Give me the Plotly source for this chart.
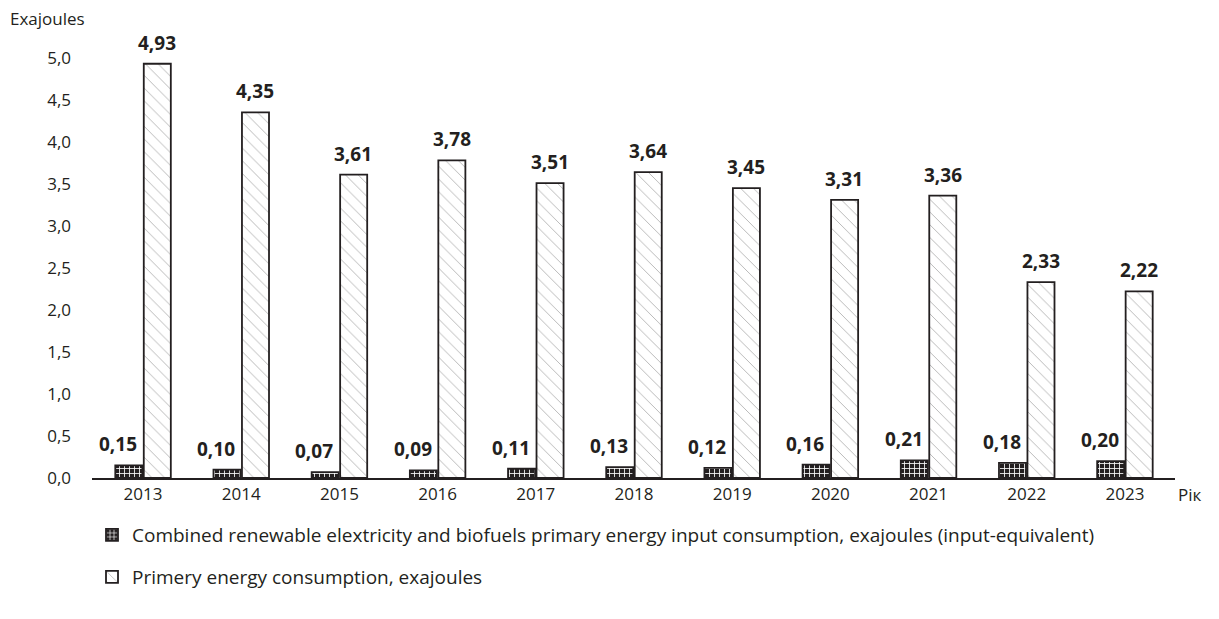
import plotly.graph_objects as go

years = ["2013", "2014", "2015", "2016", "2017", "2018", "2019", "2020", "2021", "2022", "2023"]
renewable = [0.15, 0.10, 0.07, 0.09, 0.11, 0.13, 0.12, 0.16, 0.21, 0.18, 0.20]
primary = [4.93, 4.35, 3.61, 3.78, 3.51, 3.64, 3.45, 3.31, 3.36, 2.33, 2.22]
y_ticks = [0, 0.5, 1.0, 1.5, 2.0, 2.5, 3.0, 3.5, 4.0, 4.5, 5.0]

name_ren = "Combined renewable elextricity and biofuels primary energy input consumption, exajoules (input-equivalent)"
name_pri = "Primery energy consumption, exajoules"

FONT = "Open Sans"
INK = "#231f20"

fig = go.Figure()
fig.add_trace(go.Bar(
    x=years, y=renewable, name=name_ren,
    marker=dict(color="white", line=dict(color=INK, width=1.8),
                pattern=dict(shape="+", fgcolor="white", bgcolor=INK, size=5, solidity=0.3, fillmode="replace")),
    legend="legend",
))
fig.add_trace(go.Bar(
    x=years, y=primary, name=name_pri,
    marker=dict(color="white", line=dict(color=INK, width=1.8),
                pattern=dict(shape="\\", fgcolor="#666666", bgcolor="white", size=9, solidity=0.1)),
    legend="legend2",
))

annotations = [
    dict(text="Exajoules", xref="paper", yref="paper", x=0, y=1.0, xshift=-84, yshift=18,
         xanchor="left", yanchor="middle", showarrow=False, font=dict(family=FONT, size=17, color=INK)),
    dict(text="Рік", xref="paper", yref="paper", x=1.0, y=0, yshift=-16, xshift=2, borderpad=0,
         xanchor="left", yanchor="middle", showarrow=False, font=dict(family=FONT, size=17, color=INK)),
]
for i, v in enumerate(renewable):
    annotations.append(dict(text="<b>" + f"{v:.2f}".replace(".", ",") + "</b>", x=i, y=v, xref="x", yref="y",
                            xanchor="center", yanchor="bottom", xshift=-25, yshift=6, showarrow=False,
                            font=dict(family=FONT, size=19, color=INK)))
for i, v in enumerate(primary):
    annotations.append(dict(text="<b>" + f"{v:.2f}".replace(".", ",") + "</b>", x=i, y=v, xref="x", yref="y",
                            xanchor="center", yanchor="bottom", xshift=14, yshift=6, showarrow=False,
                            font=dict(family=FONT, size=19, color=INK)))

fig.update_layout(
    width=1219, height=619,
    margin=dict(l=92, r=44, t=36, b=141),
    plot_bgcolor="white", paper_bgcolor="white",
    separators=", ",
    barmode="group", bargap=0.42, bargroupgap=0.05,
    font=dict(family=FONT, size=17, color=INK),
    showlegend=True,
    legend=dict(x=0.0, xanchor="left", y=-0.129, yanchor="middle", orientation="h", itemwidth=30,
                font=dict(family=FONT, size=19, color=INK), bgcolor="rgba(0,0,0,0)"),
    legend2=dict(x=0.0, xanchor="left", y=-0.224, yanchor="middle", orientation="h", itemwidth=30,
                 font=dict(family=FONT, size=19, color=INK), bgcolor="rgba(0,0,0,0)"),
    annotations=annotations,
)
fig.update_xaxes(type="category", range=[-0.52, 10.51], showline=True, linecolor=INK, linewidth=1.8,
                 ticks="", showgrid=False, tickfont=dict(family=FONT, size=17, color=INK))
fig.update_yaxes(range=[0, 5.26], tickvals=y_ticks, tickformat=".1f", showline=False,
                 showgrid=False, zeroline=False, ticks="", ticklabelstandoff=20,
                 tickfont=dict(family=FONT, size=17, color=INK))

fig.write_html("out.html", post_script="document.body.style.margin='0';",
               config={"displayModeBar": False})
